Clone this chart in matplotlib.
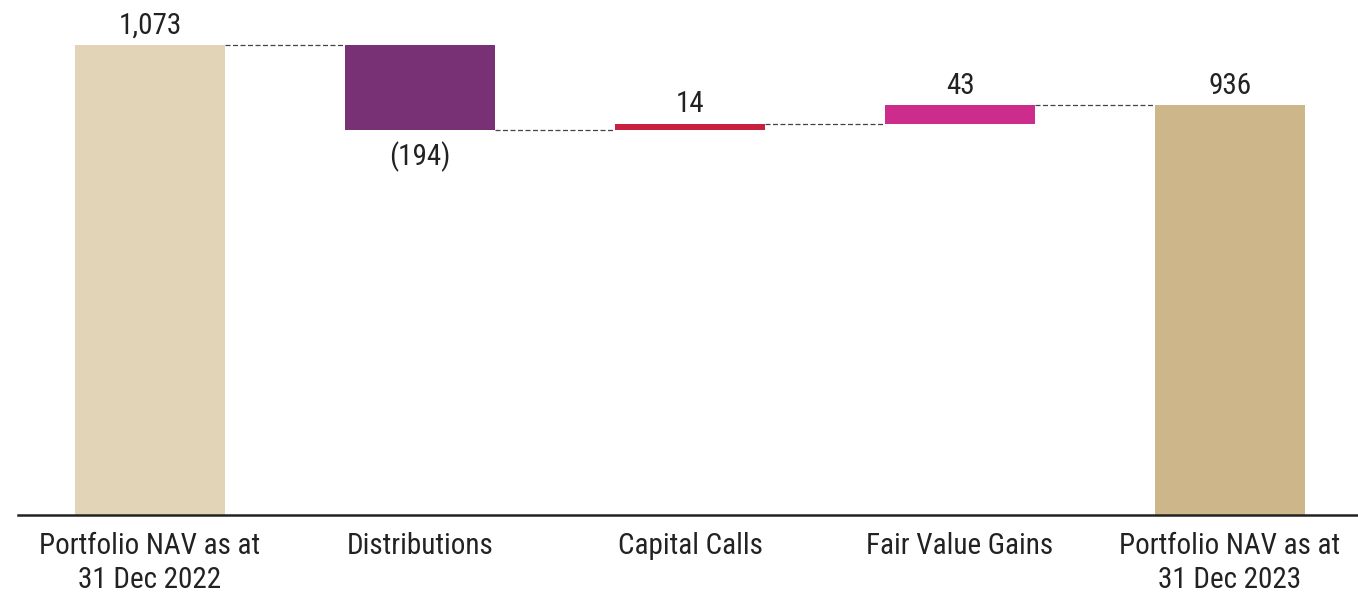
import matplotlib.pyplot as plt
import numpy as np

categories = ["Portfolio NAV as at\n31 Dec 2022", "Distributions", "Capital Calls",
              "Fair Value Gains", "Portfolio NAV as at\n31 Dec 2023"]
changes = [1073, -194, 14, 43, 936]
is_total = [True, False, False, False, True]
labels = ["1,073", "(194)", "14", "43", "936"]
colors = ["#e1d4b7", "#773174", "#c8203f", "#cc2d8c", "#cdb68a"]

plt.rcParams['font.family'] = ['Roboto Condensed', 'Barlow Condensed', 'Archivo Narrow',
                               'PT Sans Narrow', 'DejaVu Sans']

fig = plt.figure(figsize=(13.58, 5.94), dpi=100)
ax = fig.add_axes([18 / 1358, 79 / 594, 1340 / 1358, 515 / 594])

x = np.arange(len(categories))
width = 0.556

# bottoms / tops of the waterfall
bottoms, tops, levels = [], [], []
running = 0
for v, tot in zip(changes, is_total):
    start = 0 if tot else running
    running = v if tot else running + v
    bottoms.append(min(start, running))
    tops.append(max(start, running))
    levels.append(running)

heights = [t - b for t, b in zip(tops, bottoms)]
ax.bar(x, heights, bottom=bottoms, width=width, color=colors, zorder=2)

# connector lines between bars
for i in range(len(x) - 1):
    ax.plot([x[i] + width / 2, x[i + 1] - width / 2], [levels[i], levels[i]],
            ls=(0, (4, 2)), color='#444444', lw=0.9, zorder=1)

# value labels
for i, (v, lab) in enumerate(zip(changes, labels)):
    if v >= 0:
        ax.annotate(lab, (x[i], tops[i]), xytext=(0, 4), textcoords='offset points',
                    ha='center', va='bottom', fontsize=21, color='#222222')
    else:
        ax.annotate(lab, (x[i], bottoms[i]), xytext=(0, -8), textcoords='offset points',
                    ha='center', va='top', fontsize=21, color='#222222')

ax.set_xlim(-0.489, 4.474)
ax.set_ylim(0, 1176)
ax.set_xticks(x)
ax.set_xticklabels(categories, fontsize=21, color='#222222', linespacing=1.3)
ax.tick_params(axis='x', length=0, pad=12)
ax.set_yticks([])
for s in ['top', 'right', 'left']:
    ax.spines[s].set_visible(False)
ax.spines['bottom'].set_linewidth(1.8)
ax.spines['bottom'].set_color('#222222')

fig.savefig('out.png', dpi=100)
